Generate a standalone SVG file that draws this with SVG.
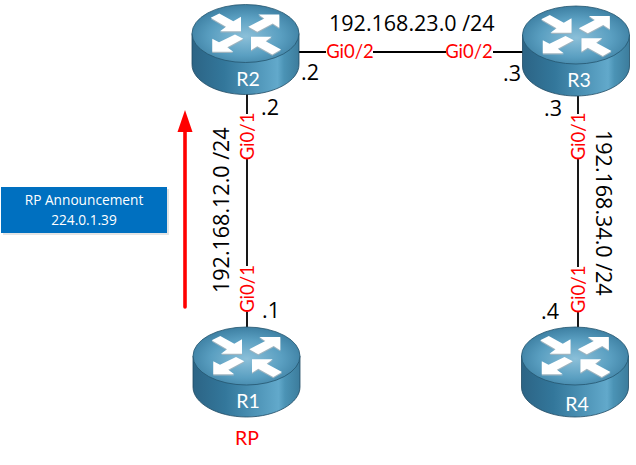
<svg xmlns="http://www.w3.org/2000/svg" width="636" height="465" viewBox="0 0 636 465">
<style>
.t{font-family:"Open Sans","Liberation Sans",sans-serif;font-size:21.500px;fill:#000}
.g{font-family:Lato,"Open Sans",sans-serif;font-size:18.500px;fill:#f00;text-anchor:middle}
.n{font-family:Lato,"Open Sans",sans-serif;font-size:19.500px;fill:#fff;text-anchor:middle}
.b{font-family:"Open Sans","Noto Sans",sans-serif;font-size:13.700px;fill:#fff;text-anchor:middle}
.l{stroke:#000;stroke-width:1.800;fill:none}
.a{fill:#fff}
.s{fill:#9fb4bf}
</style>
<defs>
<linearGradient id="side" x1="0" x2="1" y1="0" y2="0">
<stop offset="0" stop-color="#2c6485"/><stop offset=".3" stop-color="#33779b"/><stop offset=".8" stop-color="#62a9cb"/><stop offset=".86" stop-color="#4b93b5"/><stop offset="1" stop-color="#3c7c9c"/>
</linearGradient>
<radialGradient id="top" cx=".5" cy=".55" r=".55">
<stop offset="0" stop-color="#8cc0d9"/><stop offset=".6" stop-color="#5a9fc1"/><stop offset="1" stop-color="#3d7fa2"/>
</radialGradient>
<symbol id="router" width="108" height="90" viewBox="0 0 108 90" overflow="visible">
<path d="M0 29V60C0 76 24 90 53.500 90S107 76 107 60V29Z" fill="url(#side)" stroke="#1f4a63" stroke-width=".8"/>
<ellipse cx="53.500" cy="29" rx="53.500" ry="29" fill="url(#top)" stroke="#24566f" stroke-width=".8"/>
<g class="s" transform="translate(0,1.200)">
<path d="M18.700 13.300L27.300 9L41.300 16.700L49 12.300V26.700H28L34 22.300Z"/>
<path d="M87.300 10H66.300L72.300 14L56.300 22.300L65.300 27.300L80.700 19L87.300 23.300Z"/>
<path d="M20.300 47.300V34.300L27 37.700L43 30L51.300 34.300L35.300 42.700L41.300 47.300Z"/>
<path d="M59 32.300H79.700L73.700 36.700L89 45L80.300 50L65.300 41.700L59 45.700Z"/>
</g>
<g class="a">
<path d="M18.700 13.300L27.300 9L41.300 16.700L49 12.300V26.700H28L34 22.300Z"/>
<path d="M87.300 10H66.300L72.300 14L56.300 22.300L65.300 27.300L80.700 19L87.300 23.300Z"/>
<path d="M20.300 47.300V34.300L27 37.700L43 30L51.300 34.300L35.300 42.700L41.300 47.300Z"/>
<path d="M59 32.300H79.700L73.700 36.700L89 45L80.300 50L65.300 41.700L59 45.700Z"/>
</g>
</symbol>
</defs>
<g id="connectors">
<path class="l" d="M299 52H326M373 52H446M493 52H523"/>
<path class="l" d="M247 94V114M247 159V266M247 312V327"/>
<path class="l" d="M578 96V114M578 159V267M578 312V327"/>
</g>
<g id="R2"><use href="#router" x="192" y="4.500"/><text class="n" x="248" y="86">R2</text></g>
<g id="R3"><use href="#router" x="522.500" y="6"/><text class="n" x="579" y="87">R3</text></g>
<g id="R1"><use href="#router" x="193" y="327"/><text class="n" x="248" y="408">R1</text></g>
<g id="R4"><use href="#router" x="521.500" y="327"/><text class="n" x="577" y="411">R4</text></g>
<g id="labels">
<text class="g" x="350" y="58">Gi0/2</text>
<text class="g" x="469" y="58">Gi0/2</text>
<text class="g" transform="translate(254,136.500) rotate(-90)">Gi0/1</text>
<text class="g" transform="translate(254,289) rotate(-90)">Gi0/1</text>
<text class="g" transform="translate(585,136.500) rotate(-90)">Gi0/1</text>
<text class="g" transform="translate(585,289.500) rotate(-90)">Gi0/1</text>
<text class="t" x="329" y="31">192.168.23.0 /24</text>
<text class="t" transform="translate(229,293) rotate(-90)">192.168.12.0 /24</text>
<text class="t" transform="translate(596,130) rotate(90)">192.168.34.0 /24</text>
<text class="t" x="301" y="80">.2</text>
<text class="t" x="261" y="115">.2</text>
<text class="t" x="503" y="81">.3</text>
<text class="t" x="544" y="116">.3</text>
<text class="t" x="262" y="318">.1</text>
<text class="t" x="541" y="319">.4</text>
<text class="g" x="247" y="445" style="font-size:19.500px">RP</text>
</g>
<g id="announcement">
<rect x="3" y="189" width="166" height="46" fill="#e4e4e4"/>
<rect x="1" y="187" width="166" height="46" fill="#0070c0"/>
<text class="b" x="84" y="205">RP Announcement</text>
<text class="b" x="84" y="225">224.0.1.39</text>
</g>
<g id="flow">
<path d="M185 307V130" stroke="#f00" stroke-width="3.600" stroke-linecap="round" fill="none"/>
<path d="M185 110L192.500 132H177.500Z" fill="#f00"/>
</g>
</svg>
